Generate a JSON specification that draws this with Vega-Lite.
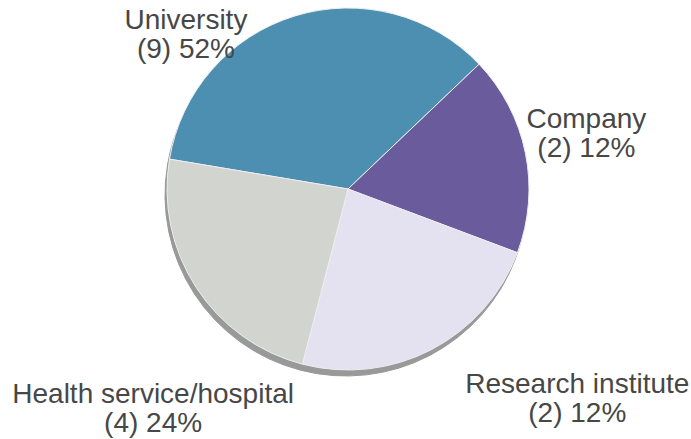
{
  "$schema": "https://vega.github.io/schema/vega-lite/v6.json",
  "width": 362,
  "height": 362,
  "autosize": "none",
  "padding": {"left": 167, "top": 8, "right": 162, "bottom": 69},
  "background": "white",
  "data": {
    "values": [
      {"category": "University", "count": 9, "pct": "52%", "angle": 126.9, "ord": 1, "label": "University\n(9) 52%"},
      {"category": "Company", "count": 2, "pct": "12%", "angle": 64.2, "ord": 2, "label": "Company\n(2) 12%"},
      {"category": "Research institute", "count": 2, "pct": "12%", "angle": 84.0, "ord": 3, "label": "Research institute\n(2) 12%"},
      {"category": "Health service/hospital", "count": 4, "pct": "24%", "angle": 84.9, "ord": 4, "label": "Health service/hospital\n(4) 24%"}
    ]
  },
  "encoding": {
    "theta": {"field": "angle", "type": "quantitative", "stack": true, "scale": {"range": [-1.405, 4.8782]}},
    "order": {"field": "ord", "type": "quantitative"}
  },
  "layer": [
    {
      "mark": {"type": "arc", "color": "#999999", "xOffset": -2, "yOffset": 6, "stroke": "#999999", "strokeWidth": 1}
    },
    {
      "mark": {"type": "arc", "stroke": "#eeeeee", "strokeWidth": 1},
      "encoding": {
        "color": {
          "field": "category", "type": "nominal", "legend": null,
          "scale": {
            "domain": ["University", "Company", "Research institute", "Health service/hospital"],
            "range": ["#4c8fb1", "#6a5b9c", "#e4e1f1", "#d1d4cf"]
          }
        }
      }
    },
    {
      "mark": {"type": "text", "radius": 181, "dx": -109, "dy": 5, "font": "Liberation Sans", "fontSize": 28, "lineHeight": 29, "lineBreak": "\n", "align": "center", "baseline": "middle", "fill": "#474747"},
      "encoding": {"text": {"condition": {"test": "datum.category === 'University'", "field": "label"}, "value": ""}}
    },
    {
      "mark": {"type": "text", "radius": 181, "dx": 61, "dy": -33, "font": "Liberation Sans", "fontSize": 28, "lineHeight": 29, "lineBreak": "\n", "align": "center", "baseline": "middle", "fill": "#474747"},
      "encoding": {"text": {"condition": {"test": "datum.category === 'Company'", "field": "label"}, "value": ""}}
    },
    {
      "mark": {"type": "text", "radius": 181, "dx": 146, "dy": 35, "font": "Liberation Sans", "fontSize": 28, "lineHeight": 29, "lineBreak": "\n", "align": "center", "baseline": "middle", "fill": "#474747"},
      "encoding": {"text": {"condition": {"test": "datum.category === 'Research institute'", "field": "label"}, "value": ""}}
    },
    {
      "mark": {"type": "text", "radius": 181, "dx": -43, "dy": 108, "font": "Liberation Sans", "fontSize": 28, "lineHeight": 29, "lineBreak": "\n", "align": "center", "baseline": "middle", "fill": "#474747"},
      "encoding": {"text": {"condition": {"test": "datum.category === 'Health service/hospital'", "field": "label"}, "value": ""}}
    }
  ],
  "config": {"view": {"stroke": null}}
}
